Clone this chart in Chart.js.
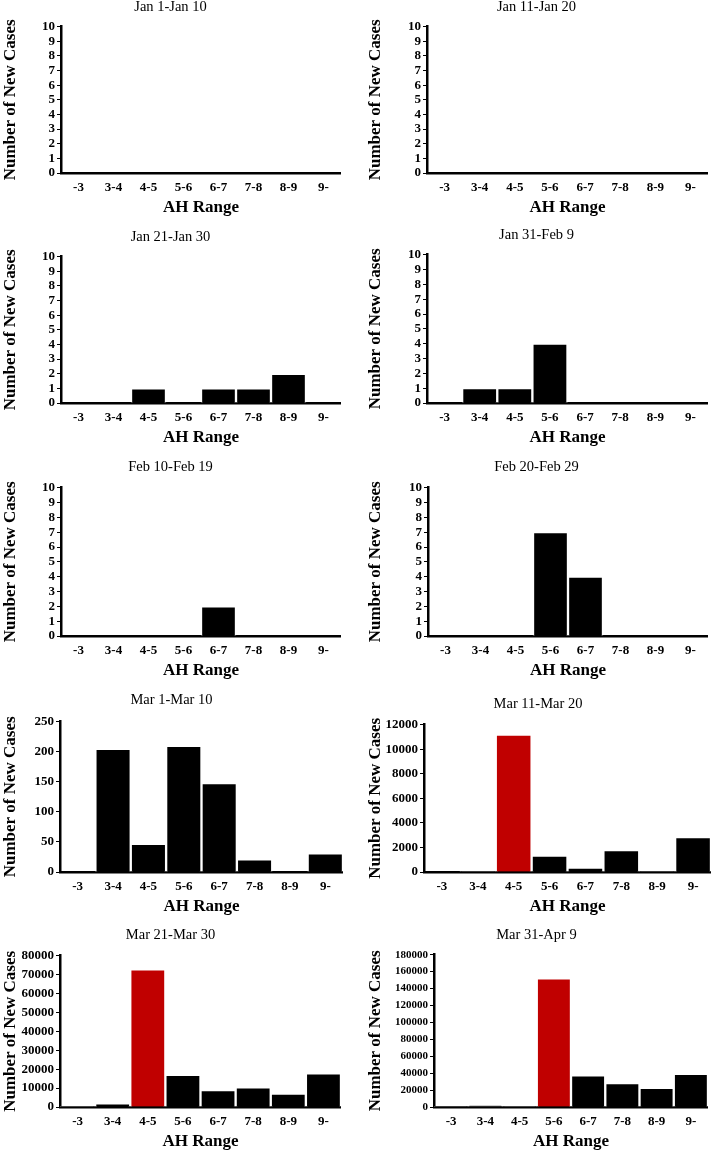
<!DOCTYPE html>
<html>
<head>
<meta charset="utf-8">
<script src="https://cdn.jsdelivr.net/npm/chart.js@4.4.1/dist/chart.umd.min.js"></script>
<style>
  body { margin: 0; background: #fff; }
  #wrap { position: relative; width: 711px; height: 1153px; overflow: hidden; }
  #wrap canvas { position: absolute; }
</style>
</head>
<body>
<div id="wrap"></div>
<script>
// AH range bins (x axis)
const ahRanges = ['-3', '3-4', '4-5', '5-6', '6-7', '7-8', '8-9', '9-'];

const periods = [
  'Jan 1-Jan 10', 'Jan 11-Jan 20', 'Jan 21-Jan 30', 'Jan 31-Feb 9',
  'Feb 10-Feb 19', 'Feb 20-Feb 29', 'Mar 1-Mar 10', 'Mar 11-Mar 20',
  'Mar 21-Mar 30', 'Mar 31-Apr 9'
];

// new cases per AH range, one array per period
const jan1Jan10   = [0, 0, 0, 0, 0, 0, 0, 0];
const jan11Jan20  = [0, 0, 0, 0, 0, 0, 0, 0];
const jan21Jan30  = [0, 0, 1, 0, 1, 1, 2, 0];
const jan31Feb9   = [0, 1, 1, 4, 0, 0, 0, 0];
const feb10Feb19  = [0, 0, 0, 0, 2, 0, 0, 0];
const feb20Feb29  = [0, 0, 0, 7, 4, 0, 0, 0];
const mar1Mar10   = [0, 205, 47, 210, 148, 21, 0, 31];
const mar11Mar20  = [0, 10, 11200, 1340, 360, 1780, 20, 2840];
const mar21Mar30  = [300, 1900, 72800, 17000, 9000, 10400, 7100, 17800];
const mar31Apr9   = [300, 1600, 500, 152200, 37400, 28200, 22600, 39300];

const seriesList = [jan1Jan10, jan11Jan20, jan21Jan30, jan31Feb9, feb10Feb19,
                    feb20Feb29, mar1Mar10, mar11Mar20, mar21Mar30, mar31Apr9];

// y axis ticks
const yMax  = [10, 10, 10, 10, 10, 10, 250, 12000, 80000, 180000];
const yStep = [1, 1, 1, 1, 1, 1, 50, 2000, 10000, 20000];

// bin highlighted in red (-1 = none)
const redBar = [-1, -1, -1, -1, -1, -1, -1, 2, 2, 3];

// where each panel sits on the page
const panels = [
  { left: 0,   titleY: 7,   top: 27,  zero: 173,  axisX: 61,  right: 341, tick: 13 },
  { left: 365, titleY: 7,   top: 27,  zero: 173,  axisX: 427, right: 708, tick: 13 },
  { left: 0,   titleY: 237, top: 257, zero: 403,  axisX: 61,  right: 341, tick: 13 },
  { left: 365, titleY: 235, top: 255, zero: 403,  axisX: 427, right: 708, tick: 13 },
  { left: 0,   titleY: 467, top: 488, zero: 636,  axisX: 61,  right: 341, tick: 13 },
  { left: 365, titleY: 467, top: 488, zero: 636,  axisX: 428, right: 708, tick: 13 },
  { left: 0,   titleY: 700, top: 722, zero: 872,  axisX: 60,  right: 343, tick: 13 },
  { left: 365, titleY: 704, top: 725, zero: 872,  axisX: 424, right: 711, tick: 13 },
  { left: 0,   titleY: 935, top: 956, zero: 1107, axisX: 60,  right: 341, tick: 13 },
  { left: 365, titleY: 935, top: 955, zero: 1107, axisX: 434, right: 708, tick: 11 }
];

const serif = 'Liberation Serif, Times New Roman, serif';
const TITLE_SIZE = 14.5;
const TITLE_LH = TITLE_SIZE * 1.2;
const X_AXIS_H = 45;

const wrap = document.getElementById('wrap');

panels.forEach((p, i) => {
  const canvas = document.createElement('canvas');
  const canvasTop = p.titleY - TITLE_LH / 2;
  canvas.width = p.right - p.left;
  canvas.height = Math.round(p.zero - canvasTop + X_AXIS_H);
  canvas.style.left = p.left + 'px';
  canvas.style.top = canvasTop + 'px';
  wrap.appendChild(canvas);

  new Chart(canvas, {
    type: 'bar',
    data: {
      labels: ahRanges,
      datasets: [{
        data: seriesList[i],
        backgroundColor: seriesList[i].map((v, k) => k === redBar[i] ? '#C00000' : '#000000'),
        borderColor: '#ffffff',
        borderWidth: 1.5,
        categoryPercentage: 1,
        barPercentage: 1
      }]
    },
    options: {
      responsive: false,
      animation: false,
      devicePixelRatio: 1,
      layout: { padding: 0 },
      plugins: {
        legend: { display: false },
        tooltip: { enabled: false },
        title: {
          display: true,
          text: periods[i],
          color: '#000',
          font: { family: serif, size: TITLE_SIZE, weight: 'normal' },
          padding: { top: 0, bottom: p.top - canvasTop - TITLE_LH }
        }
      },
      scales: {
        x: {
          grid: { display: false, drawTicks: false },
          border: { display: true, color: '#000', width: 2.5 },
          ticks: {
            color: '#000', padding: 7, autoSkip: false, maxRotation: 0,
            font: { family: serif, size: 13, weight: 'bold' }
          },
          title: {
            display: true, text: 'AH Range', color: '#000', padding: 0,
            font: { family: serif, size: 17, weight: 'bold' }
          },
          afterFit: s => { s.height = X_AXIS_H; }
        },
        y: {
          min: 0,
          max: yMax[i],
          grid: { drawOnChartArea: false, drawTicks: true, tickLength: 4, color: '#000', lineWidth: 1 },
          border: { display: true, color: '#000', width: 2.5 },
          ticks: {
            stepSize: yStep[i],
            autoSkip: false,
            color: '#000',
            padding: 2,
            font: { family: serif, size: p.tick, weight: 'bold' },
            callback: v => String(v)
          },
          title: {
            display: true, text: 'Number of New Cases', color: '#000', padding: 0,
            font: { family: serif, size: 17, weight: 'bold' }
          },
          afterFit: s => { s.width = p.axisX - p.left; }
        }
      }
    }
  });
});
</script>
</body>
</html>
